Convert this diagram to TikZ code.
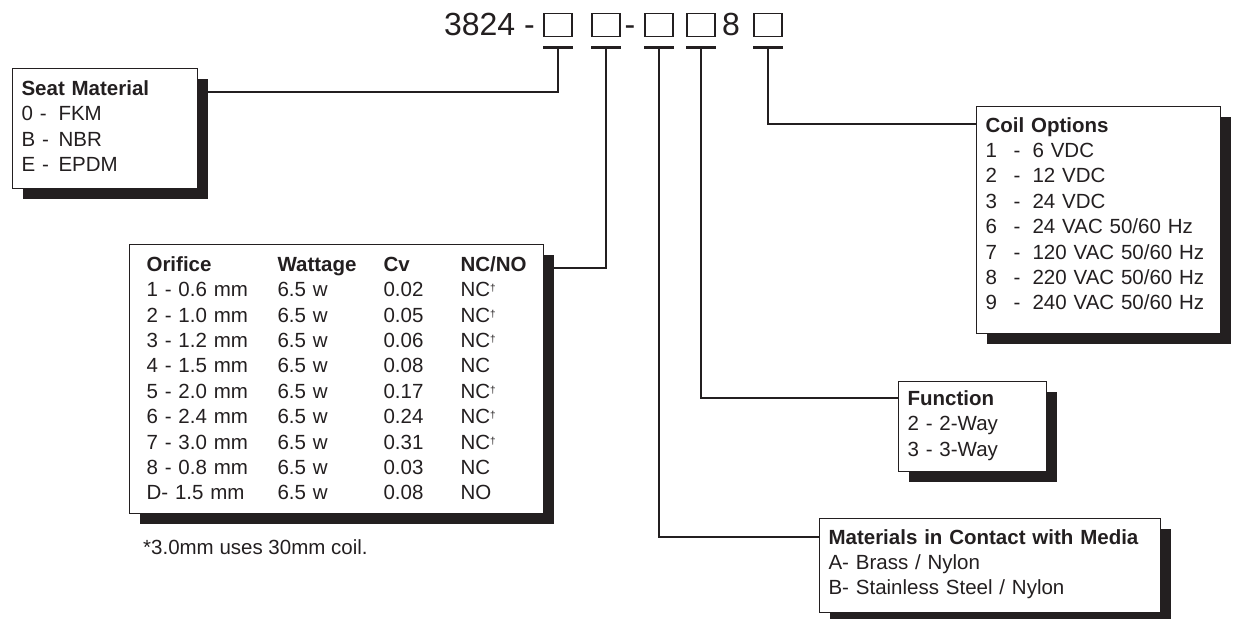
\documentclass[tikz,border=0pt]{standalone}
\usepackage{fontspec}
\setmainfont{Liberation Sans}
\usepackage{array}
\usetikzlibrary{shadows, backgrounds, positioning}
\definecolor{ink}{RGB}{35,31,32}
\newcommand{\coilrow}[2]{\makebox[28pt][l]{#1}\makebox[19pt][l]{-}#2}
\newcommand{\dg}{\raisebox{5pt}{\fontsize{10}{10}\selectfont\textdagger}}

\begin{document}
\begin{tikzpicture}[x=1pt, y=-1pt, every node/.style={text=ink},
    txt/.style={font=\fontsize{20.5}{25.4}\selectfont},
    box/.style={txt, draw=ink, line width=1.1pt, fill=white, anchor=north west,
                align=left, inner xsep=9pt, inner ysep=0pt,
                drop shadow={shadow xshift=10pt, shadow yshift=-10pt, fill=ink, opacity=1}},
    sq/.style={draw=ink, line width=1.4pt, minimum width=28pt, minimum height=23pt, inner sep=0pt},
    code/.style={font=\fontsize{32}{38}\selectfont, inner sep=0pt, anchor=base},
    bar/.style={ink, line width=2.6pt},
    conn/.style={ink, line width=2pt}]
  \useasboundingbox (0,0) rectangle (1246,618);

  \node[code, anchor=base east] (pn) at (535,36) {3824 -};
  \node[sq] (sq1) at (558,25) {};
  \node[sq] (sq2) at (606,25) {};
  \node[code] (dash) at (630,36) {-};
  \node[sq] (sq3) at (659,25) {};
  \node[sq] (sq4) at (701,25) {};
  \node[code] (eight) at (731,36) {8};
  \node[sq] (sq5) at (768,25) {};
  \foreach \i in {1,...,5} {
    \coordinate (b\i) at ([yshift=-10.5pt]sq\i.south);
    \draw[bar] (sq\i.south west |- b\i) -- (sq\i.south east |- b\i);
  }

  \node[box, text width=167pt, text height=27pt, text depth=93pt] (seat) at (12,68)
    {\textbf{Seat Material}\\ \makebox[37pt][l]{0 -}FKM\\ \makebox[37pt][l]{B -}NBR\\ \makebox[37pt][l]{E -}EPDM};

  \node[box, inner xsep=17pt, text width=380pt, text height=26.7pt, text depth=242.3pt] (orif) at (129,244)
    {\setlength{\tabcolsep}{0pt}\begin{tabular}[t]{@{}p{131pt}p{106pt}p{77pt}l@{}}
      \textbf{Orifice} & \textbf{Wattage} & \textbf{Cv} & \textbf{NC/NO}\\
      1 - 0.6 mm & 6.5 w & 0.02 & NC\dg\\
      2 - 1.0 mm & 6.5 w & 0.05 & NC\dg\\
      3 - 1.2 mm & 6.5 w & 0.06 & NC\dg\\
      4 - 1.5 mm & 6.5 w & 0.08 & NC\\
      5 - 2.0 mm & 6.5 w & 0.17 & NC\dg\\
      6 - 2.4 mm & 6.5 w & 0.24 & NC\dg\\
      7 - 3.0 mm & 6.5 w & 0.31 & NC\dg\\
      8 - 0.8 mm & 6.5 w & 0.03 & NC\\
      D- 1.5 mm & 6.5 w & 0.08 & NO
    \end{tabular}};
  \node[txt, anchor=base west, inner sep=0pt] (note) at (143,554.5) {*3.0mm uses 30mm coil.};

  \node[box, text width=226pt, text height=25.5pt, text depth=201.5pt] (coil) at (976,106)
    {\textbf{Coil Options}\\ \coilrow{1}{6 VDC}\\ \coilrow{2}{12 VDC}\\ \coilrow{3}{24 VDC}\\
     \coilrow{6}{24 VAC 50/60 Hz}\\ \coilrow{7}{120 VAC 50/60 Hz}\\
     \coilrow{8}{220 VAC 50/60 Hz}\\ \coilrow{9}{240 VAC 50/60 Hz}};

  \node[box, text width=130pt, text height=24pt, text depth=66pt] (func) at (898,381)
    {\textbf{Function}\\ 2 - 2-Way\\ 3 - 3-Way};

  \node[box, text width=323pt, text height=25.5pt, text depth=68.5pt] (mat) at (819,518)
    {\textbf{Materials in Contact with Media}\\ A- Brass / Nylon\\ B- Stainless Steel / Nylon};

  \begin{scope}[on background layer]
    \draw[conn] (b1) |- ([yshift=-24pt]seat.north east);
    \draw[conn] (b2) |- ([yshift=-24pt]orif.north east);
    \draw[conn] (b3) |- ([yshift=-19pt]mat.north west);
    \draw[conn] (b4) |- ([yshift=-17pt]func.north west);
    \draw[conn] (b5) |- ([yshift=-18pt]coil.north west);
  \end{scope}
\end{tikzpicture}
\end{document}
